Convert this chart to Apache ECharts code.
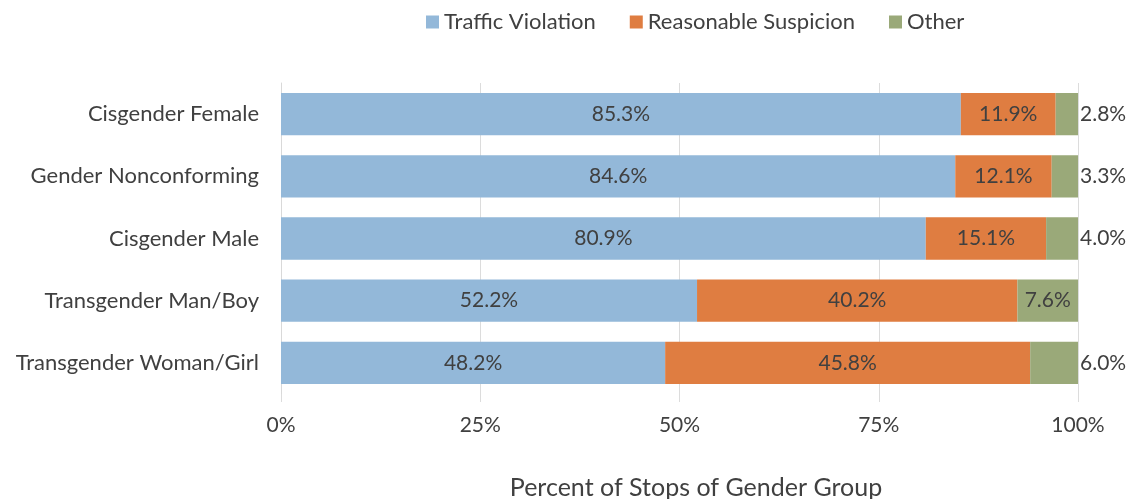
<!DOCTYPE html>
<html>
<head>
<meta charset="utf-8">
<title>Reason for Stop by Gender Group</title>
<script src="https://cdn.jsdelivr.net/npm/echarts@6/dist/echarts.min.js"></script>
<style>
  html, body { margin: 0; padding: 0; background: #fff; }
  #chart { width: 1130px; height: 499px; }
</style>
</head>
<body>
<div id="chart"></div>
<script>
/* Stop reason by gender group — 100% stacked bars */
var categories = [
  'Cisgender Female',
  'Gender Nonconforming',
  'Cisgender Male',
  'Transgender Man/Boy',
  'Transgender Woman/Girl'
];
var seriesNames = ['Traffic Violation', 'Reasonable Suspicion', 'Other'];
var trafficViolation = [85.3, 84.6, 80.9, 52.2, 48.2];
var reasonableSuspicion = [11.9, 12.1, 15.1, 40.2, 45.8];
var other = [2.8, 3.3, 4.0, 7.6, 6.0];
var tickLabels = ['0%', '25%', '50%', '75%', '100%'];

(function () {
  'use strict';
  var chart = echarts.init(document.getElementById('chart'), null, { renderer: 'canvas' });
  var font = 'Lato, "Open Sans", sans-serif';
  var textColor = '#404040';

  // small segments get their label pushed outside the bar end
  function labelled(values, outsideBelow) {
    return values.map(function (v) {
      var item = { value: v };
      if (outsideBelow && v < outsideBelow) {
        item.label = { position: 'right', distance: 2 };
      }
      return item;
    });
  }

  var baseLabel = {
    show: true,
    position: 'inside',
    color: textColor,
    fontFamily: font,
    fontSize: 21,
    formatter: function (p) { return p.value.toFixed(1) + '%'; }
  };

  var option = {
    color: ['#93b8d9', '#df7d41', '#9aa979'],
    textStyle: { fontFamily: font },
    legend: {
      top: 6,
      left: 421,
      itemWidth: 13,
      itemHeight: 13,
      itemGap: 34,
      icon: 'rect',
      textStyle: { color: textColor, fontSize: 22, fontFamily: font },
      data: seriesNames
    },
    grid: { left: 281, right: 52, top: 83, bottom: 105, outerBoundsMode: 'none' },
    xAxis: {
      type: 'value',
      min: 0,
      max: 100,
      interval: 25,
      axisLine: { show: false },
      axisTick: { show: true, length: 8, lineStyle: { color: '#dcdcdc' } },
      splitLine: { lineStyle: { color: '#dcdcdc', width: 1 } },
      axisLabel: {
        color: textColor,
        fontSize: 21,
        fontFamily: font,
        margin: 21,
        formatter: function (v) { return tickLabels[v / 25]; }
      },
      name: 'Percent of Stops of Gender Group',
      nameLocation: 'middle',
      nameGap: 81,
      nameTextStyle: { color: textColor, fontSize: 25, fontFamily: font, padding: [0, 0, 0, 33] }
    },
    yAxis: {
      type: 'category',
      inverse: true,
      data: categories,
      axisLine: { show: true, lineStyle: { color: '#d9d9d9' } },
      axisTick: { show: false },
      axisLabel: { color: textColor, fontSize: 22, fontFamily: font, margin: 22 }
    },
    series: [
      {
        name: seriesNames[0], type: 'bar', stack: 'total', barCategoryGap: '32%',
        label: baseLabel, data: labelled(trafficViolation)
      },
      {
        name: seriesNames[1], type: 'bar', stack: 'total',
        label: baseLabel, data: labelled(reasonableSuspicion)
      },
      {
        name: seriesNames[2], type: 'bar', stack: 'total',
        label: baseLabel, data: labelled(other, 7)
      }
    ]
  };

  chart.setOption(option);
  window.addEventListener('resize', function () { chart.resize(); });
})();
</script>
</body>
</html>
